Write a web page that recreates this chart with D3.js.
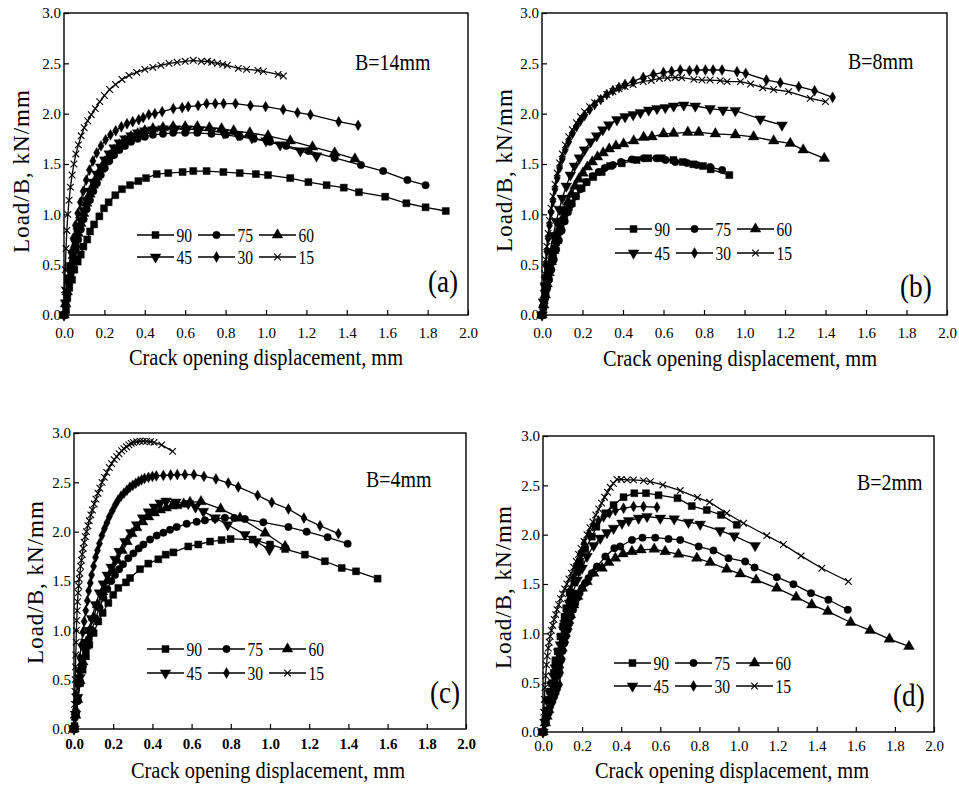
<!DOCTYPE html>
<html>
<head>
<meta charset="utf-8">
<script src="https://cdn.jsdelivr.net/npm/d3@7"></script>
<style>
body { margin: 0; background: #fff; }
svg text { font-family: "Liberation Serif", "Times New Roman", serif; fill: #000; }
</style>
</head>
<body>
<svg id="fig" width="959" height="792"></svg>
<script>
// legend entries (crack angle, degrees) and panel captions
const angles = ["90", "75", "60", "45", "30", "15"];
const thickness = ["B=14mm", "B=8mm", "B=4mm", "B=2mm"];
const tags = ["(a)", "(b)", "(c)", "(d)"];
const xTicks = [0, 0.2, 0.4, 0.6, 0.8, 1.0, 1.2, 1.4, 1.6, 1.8, 2.0];
const yTicks = [0, 0.5, 1.0, 1.5, 2.0, 2.5, 3.0];

// (a) B=14mm  [COD mm, load/B kN/mm]
const a90 = [[0,0],[0.01,0.05],[0.016,0.17],[0.026,0.27],[0.04,0.35],[0.051,0.45],[0.068,0.53],[0.083,0.6],[0.096,0.68],[0.115,0.75],[0.129,0.83],[0.149,0.9],[0.175,0.98],[0.198,1.06],[0.221,1.12],[0.254,1.19],[0.287,1.25],[0.327,1.29],[0.368,1.33],[0.406,1.36],[0.459,1.4],[0.516,1.41],[0.587,1.42],[0.64,1.43],[0.706,1.43],[0.789,1.42],[0.87,1.41],[0.95,1.4],[1.01,1.39],[1.12,1.36],[1.21,1.32],[1.3,1.29],[1.385,1.265],[1.46,1.22],[1.59,1.175],[1.695,1.11],[1.79,1.07],[1.89,1.033]];
const a75 = [[0,0],[0.008,0.1],[0.016,0.21],[0.025,0.32],[0.035,0.43],[0.046,0.54],[0.058,0.65],[0.07,0.75],[0.083,0.85],[0.097,0.95],[0.112,1.05],[0.128,1.14],[0.145,1.23],[0.163,1.31],[0.182,1.39],[0.202,1.46],[0.224,1.53],[0.248,1.59],[0.274,1.64],[0.302,1.68],[0.332,1.72],[0.365,1.75],[0.4,1.77],[0.44,1.79],[0.49,1.8],[0.54,1.81],[0.6,1.81],[0.66,1.81],[0.73,1.8],[0.8,1.79],[0.87,1.77],[0.94,1.75],[1.02,1.72],[1.1,1.68],[1.21,1.63],[1.34,1.56],[1.47,1.49],[1.58,1.43],[1.7,1.34],[1.79,1.29]];
const a60 = [[0,0],[0.008,0.11],[0.016,0.23],[0.025,0.35],[0.035,0.47],[0.046,0.59],[0.058,0.7],[0.07,0.81],[0.083,0.91],[0.097,1.01],[0.112,1.11],[0.128,1.2],[0.145,1.29],[0.163,1.37],[0.182,1.45],[0.202,1.52],[0.224,1.58],[0.248,1.64],[0.274,1.69],[0.302,1.73],[0.332,1.77],[0.365,1.8],[0.4,1.83],[0.44,1.85],[0.49,1.86],[0.54,1.87],[0.6,1.87],[0.66,1.87],[0.72,1.86],[0.78,1.85],[0.84,1.83],[0.92,1.81],[1.01,1.78],[1.12,1.73],[1.23,1.67],[1.34,1.61],[1.44,1.55]];
const a45 = [[0,0],[0.008,0.12],[0.016,0.24],[0.025,0.37],[0.035,0.49],[0.046,0.61],[0.058,0.72],[0.07,0.83],[0.083,0.94],[0.097,1.04],[0.112,1.14],[0.128,1.23],[0.145,1.32],[0.163,1.4],[0.182,1.47],[0.202,1.54],[0.224,1.6],[0.248,1.66],[0.274,1.71],[0.302,1.75],[0.332,1.78],[0.365,1.81],[0.4,1.83],[0.44,1.84],[0.49,1.85],[0.55,1.85],[0.61,1.85],[0.67,1.84],[0.73,1.83],[0.79,1.81],[0.86,1.79],[0.93,1.76],[1.0,1.73],[1.07,1.69],[1.17,1.63],[1.25,1.58]];
const a30 = [[0,0],[0.005,0.1],[0.011,0.22],[0.018,0.35],[0.026,0.48],[0.035,0.62],[0.045,0.76],[0.056,0.89],[0.068,1.01],[0.081,1.12],[0.095,1.23],[0.11,1.34],[0.126,1.44],[0.143,1.53],[0.162,1.61],[0.183,1.68],[0.206,1.74],[0.23,1.79],[0.256,1.83],[0.284,1.87],[0.312,1.9],[0.34,1.92],[0.37,1.94],[0.392,1.96],[0.42,1.99],[0.45,2.0],[0.486,2.02],[0.541,2.05],[0.585,2.06],[0.615,2.07],[0.664,2.08],[0.706,2.1],[0.749,2.1],[0.79,2.1],[0.849,2.1],[0.923,2.08],[0.998,2.07],[1.085,2.04],[1.156,2.01],[1.22,1.99],[1.36,1.92],[1.456,1.884]];
const a15 = [[0,0],[0.003,0.25],[0.006,0.45],[0.01,0.66],[0.014,0.84],[0.019,1.0],[0.025,1.14],[0.032,1.27],[0.04,1.39],[0.049,1.5],[0.059,1.6],[0.071,1.69],[0.085,1.78],[0.1,1.86],[0.117,1.93],[0.135,1.99],[0.155,2.05],[0.177,2.12],[0.2,2.18],[0.226,2.24],[0.255,2.29],[0.287,2.34],[0.322,2.38],[0.36,2.41],[0.4,2.44],[0.44,2.46],[0.48,2.48],[0.52,2.5],[0.56,2.51],[0.6,2.52],[0.64,2.53],[0.68,2.52],[0.71,2.52],[0.731,2.51],[0.76,2.5],[0.786,2.49],[0.808,2.48],[0.863,2.45],[0.904,2.44],[0.96,2.43],[0.987,2.42],[1.06,2.39],[1.086,2.374]];

// (b) B=8mm
const b90 = [[0,0],[0.006,0.07],[0.012,0.14],[0.018,0.22],[0.025,0.3],[0.032,0.38],[0.04,0.46],[0.047,0.53],[0.055,0.6],[0.062,0.66],[0.07,0.72],[0.077,0.78],[0.085,0.83],[0.092,0.88],[0.1,0.93],[0.11,0.98],[0.122,1.03],[0.133,1.07],[0.147,1.11],[0.168,1.18],[0.196,1.26],[0.22,1.32],[0.253,1.37],[0.295,1.42],[0.336,1.48],[0.394,1.507],[0.467,1.54],[0.525,1.557],[0.591,1.557],[0.649,1.54],[0.695,1.52],[0.747,1.497],[0.795,1.48],[0.833,1.447],[0.925,1.39]];
const b75 = [[0,0],[0.008,0.08],[0.016,0.17],[0.025,0.26],[0.035,0.35],[0.046,0.45],[0.058,0.55],[0.07,0.65],[0.083,0.74],[0.097,0.84],[0.112,0.93],[0.128,1.02],[0.145,1.1],[0.165,1.18],[0.19,1.25],[0.22,1.32],[0.25,1.38],[0.28,1.42],[0.31,1.46],[0.35,1.49],[0.39,1.52],[0.444,1.546],[0.502,1.556],[0.565,1.556],[0.61,1.54],[0.658,1.52],[0.716,1.51],[0.765,1.49],[0.83,1.47],[0.89,1.44]];
const b60 = [[0,0],[0.008,0.1],[0.016,0.2],[0.025,0.31],[0.035,0.42],[0.046,0.53],[0.058,0.64],[0.07,0.74],[0.083,0.84],[0.097,0.94],[0.112,1.03],[0.128,1.12],[0.145,1.2],[0.163,1.28],[0.182,1.35],[0.202,1.41],[0.224,1.47],[0.248,1.52],[0.274,1.57],[0.302,1.61],[0.332,1.65],[0.365,1.68],[0.403,1.7],[0.453,1.73],[0.502,1.765],[0.543,1.77],[0.6,1.8],[0.65,1.805],[0.72,1.815],[0.774,1.815],[0.856,1.8],[0.955,1.79],[1.045,1.77],[1.144,1.73],[1.226,1.705],[1.29,1.64],[1.394,1.556]];
const b45 = [[0,0],[0.007,0.13],[0.016,0.29],[0.028,0.47],[0.04,0.63],[0.055,0.79],[0.07,0.93],[0.085,1.05],[0.1,1.16],[0.12,1.28],[0.14,1.39],[0.16,1.48],[0.185,1.56],[0.21,1.64],[0.24,1.72],[0.27,1.78],[0.3,1.84],[0.33,1.89],[0.37,1.94],[0.41,1.97],[0.45,1.99],[0.486,2.01],[0.527,2.036],[0.568,2.05],[0.609,2.06],[0.65,2.076],[0.7,2.086],[0.757,2.076],[0.83,2.05],[0.894,2.036],[0.955,2.03],[1.078,1.947],[1.185,1.887]];
const b30 = [[0,0],[0.004,0.1],[0.008,0.24],[0.013,0.37],[0.018,0.5],[0.024,0.63],[0.03,0.76],[0.037,0.89],[0.045,1.02],[0.054,1.13],[0.064,1.25],[0.075,1.36],[0.087,1.46],[0.1,1.55],[0.115,1.64],[0.132,1.72],[0.15,1.8],[0.17,1.87],[0.19,1.93],[0.21,1.98],[0.235,2.04],[0.26,2.09],[0.29,2.14],[0.32,2.19],[0.35,2.23],[0.38,2.26],[0.41,2.29],[0.45,2.32],[0.5,2.36],[0.55,2.39],[0.6,2.41],[0.64,2.42],[0.683,2.434],[0.728,2.427],[0.765,2.434],[0.807,2.434],[0.845,2.434],[0.889,2.434],[0.963,2.417],[1.006,2.4],[1.108,2.334],[1.177,2.308],[1.268,2.268],[1.346,2.228],[1.435,2.162]];
const b15 = [[0,0],[0.004,0.12],[0.008,0.27],[0.013,0.41],[0.018,0.55],[0.024,0.68],[0.03,0.81],[0.037,0.94],[0.045,1.06],[0.054,1.18],[0.064,1.3],[0.075,1.41],[0.087,1.51],[0.1,1.6],[0.115,1.69],[0.132,1.77],[0.15,1.84],[0.17,1.91],[0.19,1.97],[0.21,2.02],[0.235,2.07],[0.26,2.11],[0.29,2.15],[0.32,2.19],[0.35,2.22],[0.38,2.25],[0.41,2.27],[0.45,2.29],[0.5,2.32],[0.54,2.33],[0.58,2.35],[0.62,2.355],[0.658,2.36],[0.69,2.357],[0.75,2.341],[0.79,2.334],[0.83,2.334],[0.88,2.328],[0.914,2.318],[0.98,2.318],[1.03,2.295],[1.09,2.258],[1.144,2.24],[1.218,2.219],[1.325,2.152],[1.4,2.12]];

// (c) B=4mm
const c90 = [[0,0],[0.003,0.03],[0.01,0.16],[0.019,0.297],[0.031,0.466],[0.044,0.6],[0.061,0.736],[0.078,0.855],[0.1,0.973],[0.124,1.09],[0.146,1.176],[0.175,1.277],[0.2,1.36],[0.226,1.43],[0.265,1.486],[0.286,1.53],[0.337,1.62],[0.379,1.676],[0.43,1.72],[0.468,1.767],[0.507,1.79],[0.583,1.85],[0.634,1.87],[0.694,1.9],[0.753,1.915],[0.799,1.926],[0.912,1.92],[1.0,1.87],[1.077,1.824],[1.178,1.767],[1.28,1.7],[1.366,1.632],[1.439,1.598],[1.549,1.524]];
const c75 = [[0,0],[0.008,0.13],[0.018,0.28],[0.03,0.46],[0.045,0.64],[0.06,0.79],[0.075,0.91],[0.09,1.0],[0.11,1.12],[0.13,1.23],[0.15,1.33],[0.17,1.42],[0.19,1.5],[0.209,1.56],[0.23,1.62],[0.25,1.67],[0.277,1.73],[0.303,1.78],[0.33,1.83],[0.354,1.87],[0.388,1.92],[0.422,1.96],[0.456,1.99],[0.49,2.02],[0.524,2.047],[0.575,2.08],[0.626,2.1],[0.668,2.115],[0.72,2.13],[0.77,2.14],[0.818,2.138],[0.872,2.128],[0.966,2.095],[1.094,2.047],[1.187,2.0],[1.294,1.943],[1.396,1.878]];
const c60 = [[0,0],[0.008,0.14],[0.018,0.3],[0.03,0.49],[0.045,0.68],[0.06,0.84],[0.08,1.0],[0.1,1.13],[0.12,1.26],[0.145,1.39],[0.17,1.5],[0.195,1.61],[0.22,1.71],[0.245,1.81],[0.27,1.9],[0.295,1.98],[0.32,2.04],[0.35,2.1],[0.38,2.15],[0.41,2.19],[0.44,2.22],[0.47,2.24],[0.5,2.26],[0.524,2.264],[0.56,2.28],[0.592,2.297],[0.648,2.304],[0.748,2.23],[0.847,2.138],[0.975,1.986],[1.077,1.85]];
const c45 = [[0,0],[0.008,0.15],[0.018,0.32],[0.03,0.52],[0.045,0.72],[0.06,0.88],[0.075,1.0],[0.09,1.12],[0.11,1.26],[0.13,1.38],[0.15,1.47],[0.17,1.56],[0.19,1.64],[0.21,1.72],[0.23,1.8],[0.26,1.9],[0.29,1.99],[0.32,2.07],[0.35,2.14],[0.38,2.2],[0.41,2.25],[0.44,2.29],[0.47,2.31],[0.52,2.3],[0.583,2.284],[0.62,2.25],[0.66,2.206],[0.72,2.14],[0.784,2.07],[0.872,1.97],[0.93,1.9],[0.997,1.818]];
const c30 = [[0,0],[0.004,0.1],[0.008,0.2],[0.013,0.33],[0.018,0.45],[0.024,0.59],[0.03,0.72],[0.037,0.85],[0.045,0.98],[0.052,1.09],[0.06,1.2],[0.068,1.3],[0.075,1.4],[0.083,1.48],[0.09,1.56],[0.1,1.65],[0.11,1.74],[0.12,1.81],[0.13,1.88],[0.142,1.96],[0.155,2.03],[0.168,2.09],[0.18,2.15],[0.195,2.21],[0.21,2.27],[0.225,2.32],[0.24,2.36],[0.255,2.39],[0.27,2.42],[0.285,2.45],[0.3,2.47],[0.315,2.49],[0.33,2.51],[0.345,2.525],[0.36,2.54],[0.38,2.55],[0.4,2.56],[0.42,2.565],[0.456,2.57],[0.493,2.574],[0.527,2.578],[0.566,2.578],[0.612,2.578],[0.663,2.56],[0.724,2.534],[0.787,2.493],[0.838,2.453],[0.937,2.368],[1.009,2.297],[1.094,2.23],[1.173,2.138],[1.255,2.06],[1.349,1.98]];
const c15 = [[0,0],[0.002,0.12],[0.003,0.25],[0.005,0.38],[0.006,0.5],[0.008,0.63],[0.009,0.75],[0.011,0.88],[0.012,1.0],[0.014,1.1],[0.016,1.2],[0.018,1.29],[0.021,1.38],[0.024,1.45],[0.027,1.52],[0.03,1.58],[0.034,1.65],[0.038,1.71],[0.042,1.77],[0.047,1.83],[0.052,1.89],[0.058,1.95],[0.064,2.0],[0.071,2.06],[0.078,2.11],[0.086,2.17],[0.094,2.22],[0.103,2.28],[0.112,2.33],[0.122,2.39],[0.132,2.44],[0.143,2.5],[0.155,2.55],[0.167,2.6],[0.18,2.65],[0.192,2.69],[0.205,2.73],[0.218,2.76],[0.23,2.79],[0.243,2.82],[0.255,2.84],[0.268,2.86],[0.28,2.88],[0.292,2.895],[0.303,2.905],[0.32,2.912],[0.337,2.916],[0.354,2.918],[0.371,2.916],[0.39,2.912],[0.408,2.905],[0.447,2.88],[0.503,2.814]];

// (d) B=2mm
const d90 = [[0,0],[0.012,0.125],[0.02,0.22],[0.029,0.327],[0.037,0.41],[0.046,0.496],[0.055,0.6],[0.063,0.715],[0.075,0.817],[0.089,0.968],[0.102,1.07],[0.11,1.16],[0.119,1.255],[0.136,1.414],[0.16,1.515],[0.175,1.62],[0.19,1.728],[0.216,1.853],[0.25,1.98],[0.273,2.08],[0.319,2.217],[0.361,2.3],[0.412,2.38],[0.467,2.42],[0.527,2.42],[0.591,2.4],[0.688,2.37],[0.761,2.29],[0.838,2.25],[0.91,2.2],[0.991,2.1]];
const d75 = [[0,0],[0.015,0.09],[0.029,0.192],[0.04,0.29],[0.051,0.395],[0.062,0.48],[0.072,0.564],[0.082,0.65],[0.092,0.732],[0.1,0.82],[0.109,0.9],[0.117,0.97],[0.126,1.036],[0.134,1.1],[0.143,1.171],[0.154,1.24],[0.165,1.306],[0.176,1.36],[0.187,1.407],[0.2,1.46],[0.216,1.509],[0.233,1.56],[0.25,1.61],[0.276,1.677],[0.319,1.778],[0.365,1.863],[0.395,1.88],[0.455,1.947],[0.509,1.97],[0.574,1.97],[0.642,1.957],[0.702,1.947],[0.796,1.88],[0.872,1.84],[0.949,1.762],[1.034,1.728],[1.082,1.667],[1.196,1.569],[1.281,1.498],[1.371,1.407],[1.46,1.34],[1.559,1.239]];
const d60 = [[0,0],[0.012,0.091],[0.02,0.16],[0.029,0.226],[0.04,0.33],[0.051,0.429],[0.062,0.51],[0.072,0.597],[0.08,0.68],[0.089,0.766],[0.097,0.85],[0.106,0.935],[0.114,1.0],[0.123,1.07],[0.131,1.13],[0.14,1.188],[0.157,1.289],[0.177,1.374],[0.2,1.458],[0.225,1.525],[0.259,1.61],[0.302,1.66],[0.336,1.718],[0.37,1.762],[0.409,1.806],[0.455,1.829],[0.501,1.846],[0.569,1.853],[0.625,1.829],[0.693,1.802],[0.787,1.762],[0.855,1.718],[0.94,1.65],[1.009,1.603],[1.09,1.542],[1.196,1.458],[1.295,1.367],[1.375,1.289],[1.457,1.222],[1.574,1.11],[1.673,1.029],[1.772,0.942],[1.872,0.867]];
const d45 = [[0,0],[0.01,0.1],[0.02,0.192],[0.028,0.29],[0.037,0.395],[0.046,0.48],[0.055,0.564],[0.063,0.65],[0.072,0.732],[0.08,0.81],[0.089,0.884],[0.097,0.96],[0.106,1.036],[0.112,1.1],[0.119,1.171],[0.128,1.24],[0.136,1.306],[0.145,1.36],[0.153,1.407],[0.174,1.54],[0.2,1.66],[0.225,1.78],[0.259,1.89],[0.293,1.964],[0.327,2.02],[0.361,2.065],[0.404,2.116],[0.438,2.143],[0.489,2.167],[0.532,2.184],[0.6,2.167],[0.671,2.16],[0.744,2.126],[0.804,2.106],[0.906,2.04],[0.978,1.988],[1.085,1.89]];
const d30 = [[0,0],[0.01,0.08],[0.02,0.15],[0.03,0.2],[0.04,0.25],[0.05,0.3],[0.06,0.35],[0.068,0.39],[0.075,0.43],[0.085,0.48],[0.09,0.6],[0.095,0.72],[0.1,0.85],[0.105,0.97],[0.11,1.08],[0.118,1.2],[0.128,1.32],[0.14,1.44],[0.155,1.56],[0.17,1.68],[0.19,1.8],[0.21,1.91],[0.235,2.01],[0.26,2.09],[0.284,2.14],[0.31,2.18],[0.34,2.22],[0.37,2.244],[0.412,2.268],[0.463,2.285],[0.514,2.285],[0.583,2.278]];
const d15 = [[0,0],[0.004,0.2],[0.007,0.33],[0.01,0.45],[0.014,0.57],[0.018,0.68],[0.022,0.77],[0.027,0.85],[0.032,0.91],[0.037,0.97],[0.043,1.03],[0.05,1.08],[0.057,1.14],[0.065,1.19],[0.072,1.24],[0.08,1.29],[0.09,1.35],[0.1,1.4],[0.111,1.45],[0.122,1.5],[0.133,1.55],[0.145,1.61],[0.157,1.67],[0.17,1.73],[0.182,1.8],[0.195,1.86],[0.21,1.93],[0.225,2.0],[0.24,2.07],[0.255,2.13],[0.27,2.2],[0.285,2.26],[0.3,2.32],[0.315,2.38],[0.33,2.43],[0.344,2.48],[0.36,2.52],[0.378,2.56],[0.4,2.56],[0.43,2.555],[0.463,2.555],[0.514,2.548],[0.549,2.538],[0.613,2.504],[0.702,2.447],[0.79,2.376],[0.852,2.33],[0.94,2.217],[1.026,2.116],[1.145,1.99],[1.23,1.9],[1.32,1.785],[1.426,1.66],[1.562,1.525]];

// layout of the four panels (pixel boxes and label spots)
const panels = [
  { box: [64, 468, 13, 315], series: [a90, a75, a60, a45, a30, a15], yl: [29, 171], xl: [266, 365], tk: 338, leg: [137, 235, 22], bt: [355, 70], tg: [428, 292], boldX: false },
  { box: [542, 947, 13, 315], series: [b90, b75, b60, b45, b30, b15], yl: [512, 170], xl: [740, 366], tk: 338, leg: [615, 229, 24], bt: [848, 69], tg: [900, 297], boldX: false },
  { box: [74, 466, 433, 729], series: [c90, c75, c60, c45, c30, c15], yl: [43, 582], xl: [268, 778], tk: 749, leg: [147, 649, 24], bt: [366, 487], tg: [430, 703], boldX: true },
  { box: [543, 934, 436, 732], series: [d90, d75, d60, d45, d30, d15], yl: [511, 587], xl: [732, 778], tk: 751, leg: [614, 663, 23], bt: [857, 490], tg: [893, 706], boldX: false }
];

const svg = d3.select("#fig");

// marker shapes, one per angle
const crossType = { draw(ctx, size) { const r = Math.sqrt(size) / 2; ctx.moveTo(-r, -r); ctx.lineTo(r, r); ctx.moveTo(r, -r); ctx.lineTo(-r, r); } };
const markers = [
  { path: d3.symbol(d3.symbolSquare, 50)(), rot: 0, fill: true },
  { path: d3.symbol(d3.symbolCircle, 44)(), rot: 0, fill: true },
  { path: d3.symbol(d3.symbolTriangle, 50)(), rot: 0, fill: true },
  { path: d3.symbol(d3.symbolTriangle, 50)(), rot: 180, fill: true },
  { path: d3.symbol(d3.symbolDiamond, 34)(), rot: 0, fill: true },
  { path: d3.symbol(crossType, 44)(), rot: 0, fill: false }
];

function drawMarker(g, m, px, py) {
  g.append("path")
    .attr("d", m.path)
    .attr("transform", "translate(" + px + "," + py + ")" + (m.rot ? " rotate(" + m.rot + ")" : ""))
    .attr("fill", m.fill ? "#000" : "none")
    .attr("stroke", "#000")
    .attr("stroke-width", m.fill ? 0.4 : 1.1);
}

// horizontal text is narrower than Liberation Serif, squeeze it a bit
function squeezed(g, str, x, y, size, sx, anchor) {
  return g.append("text")
    .attr("transform", "translate(" + x + "," + y + ") scale(" + sx + ",1)")
    .attr("text-anchor", anchor)
    .style("font-size", size + "px")
    .text(str);
}

panels.forEach((p, i) => {
  const [left, right, top, bottom] = p.box;
  const x = d3.scaleLinear().domain([0, 2]).range([left, right]);
  const y = d3.scaleLinear().domain([0, 3]).range([bottom, top]);
  const g = svg.append("g");

  // axes with inward ticks
  const xg = g.append("g")
    .attr("transform", "translate(0," + bottom + ")")
    .call(d3.axisBottom(x).tickValues(xTicks).tickSize(-5).tickPadding(12).tickFormat(d3.format(".1f")));
  const yg = g.append("g")
    .attr("transform", "translate(" + left + ",0)")
    .call(d3.axisLeft(y).tickValues(yTicks).tickSize(-5).tickPadding(3).tickFormat(d3.format(".1f")));
  [xg, yg].forEach(a => {
    a.select(".domain").remove();
    a.selectAll(".tick line").attr("stroke", "#000").attr("stroke-width", 1.2);
    a.selectAll(".tick text")
      .style("font-family", "'Liberation Serif', serif")
      .style("font-size", "15px")
      .attr("fill", "#000");
  });
  xg.selectAll(".tick text").attr("dy", null).attr("y", p.tk - bottom);
  if (p.boldX) xg.selectAll(".tick text").style("font-weight", "bold");

  g.append("rect")
    .attr("x", left).attr("y", top)
    .attr("width", right - left).attr("height", bottom - top)
    .attr("fill", "none").attr("stroke", "#000").attr("stroke-width", 1.4);

  // curves
  const line = d3.line().x(d => x(d[0])).y(d => y(d[1]));
  p.series.forEach((s, j) => {
    g.append("path")
      .datum(s)
      .attr("d", line)
      .attr("fill", "none")
      .attr("stroke", "#000")
      .attr("stroke-width", 1.3);
    const mg = g.append("g");
    s.forEach(d => drawMarker(mg, markers[j], x(d[0]), y(d[1])));
  });

  // legend
  const [lx, ly, lstep] = p.leg;
  angles.forEach((a, j) => {
    const x0 = lx + (j % 3) * 61;
    const y0 = ly + Math.floor(j / 3) * lstep;
    g.append("line")
      .attr("x1", x0).attr("x2", x0 + 37)
      .attr("y1", y0).attr("y2", y0)
      .attr("stroke", "#000").attr("stroke-width", 1.3);
    drawMarker(g, markers[j], x0 + 18.5, y0);
    squeezed(g, a, x0 + 39.5, y0 + 6.5, 19, 0.82, "start");
  });

  // labels
  squeezed(g, "Crack opening displacement, mm", p.xl[0], p.xl[1], 24, 0.85, "middle");
  g.append("text")
    .attr("transform", "translate(" + p.yl[0] + "," + p.yl[1] + ") rotate(-90)")
    .attr("text-anchor", "middle")
    .style("font-size", "23px")
    .style("letter-spacing", "1px")
    .text("Load/B, kN/mm");
  squeezed(g, thickness[i], p.bt[0], p.bt[1], 24, 0.83, "start");
  squeezed(g, tags[i], p.tg[0], p.tg[1], 32, 0.85, "start");
});
</script>
</body>
</html>
